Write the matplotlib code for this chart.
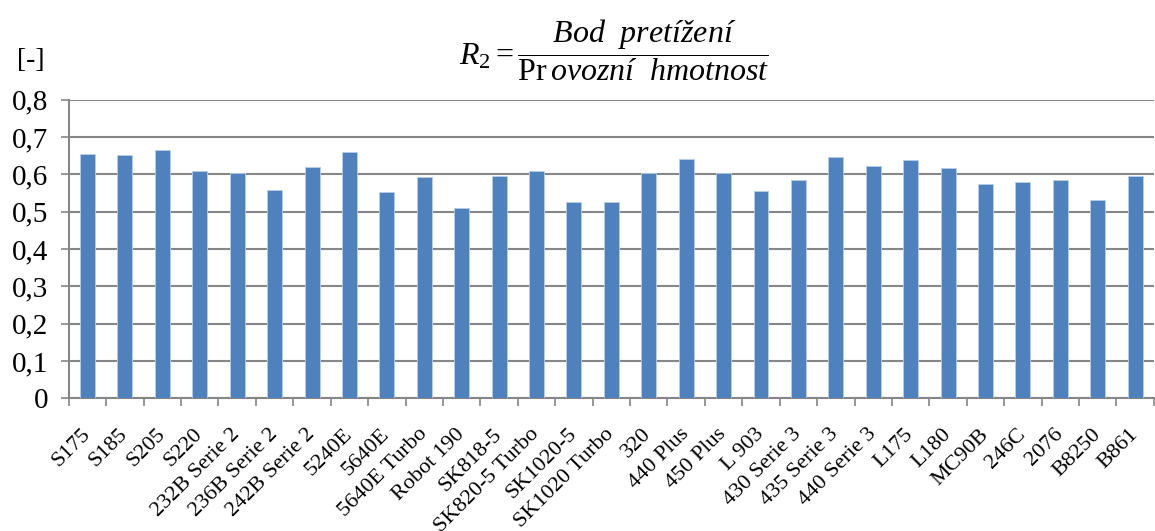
import matplotlib
matplotlib.use("Agg")
import matplotlib.pyplot as plt
import numpy as np

categories = ["S175", "S185", "S205", "S220", "232B Serie 2", "236B Serie 2", "242B Serie 2",
              "5240E", "5640E", "5640E Turbo", "Robot 190", "SK818-5", "SK820-5 Turbo",
              "SK1020-5", "SK1020 Turbo", "320", "440 Plus", "450 Plus", "L 903",
              "430 Serie 3", "435 Serie 3", "440 Serie 3", "L175", "L180", "MC90B",
              "246C", "2076", "B8250", "B861"]
values = [0.655, 0.653, 0.666, 0.608, 0.605, 0.559, 0.621, 0.659, 0.553, 0.594,
          0.510, 0.596, 0.610, 0.527, 0.527, 0.604, 0.642, 0.604, 0.556, 0.586,
          0.647, 0.622, 0.640, 0.618, 0.574, 0.580, 0.586, 0.531, 0.595]
yticks = [0, 0.1, 0.2, 0.3, 0.4, 0.5, 0.6, 0.7, 0.8]
ytick_labels = ["0", "0,1", "0,2", "0,3", "0,4", "0,5", "0,6", "0,7", "0,8"]

plt.rcParams['font.family'] = ['Liberation Serif', 'DejaVu Serif']
plt.rcParams['mathtext.fontset'] = 'custom'
plt.rcParams['mathtext.rm'] = 'Liberation Serif'
plt.rcParams['mathtext.it'] = 'Liberation Serif:italic'

fig = plt.figure(figsize=(11.55, 5.31), dpi=100)
ax = fig.add_axes([0.0596, 0.250, 0.9394, 0.562])

grid_c = "#868686"
x = np.arange(len(categories))
ax.bar(x, values, width=0.4, color="#4f81bd", edgecolor="#b9cde5", linewidth=0.6, zorder=3)

ax.set_xlim(-0.5, len(categories) - 0.5)
ax.set_ylim(0, 0.8)
ax.set_yticks(yticks)
ax.set_yticklabels(ytick_labels, fontsize=21)
ax.yaxis.grid(True, color=grid_c, linewidth=1.5, zorder=0)
ax.set_axisbelow(True)

ax.set_xticks(x)
ax.set_xticklabels(categories, rotation=45, ha="right", va="center",
                   rotation_mode="anchor", fontsize=16)
ax.tick_params(axis="x", which="major", length=0, pad=24)
ax.set_xticks(np.arange(-0.5, len(categories)), minor=True)
ax.tick_params(axis="x", which="minor", length=6, width=1.2, color=grid_c)
ax.tick_params(axis="y", length=6, width=1.2, color=grid_c, pad=9)

for s in ["top", "right"]:
    ax.spines[s].set_visible(False)
for s in ["left", "bottom"]:
    ax.spines[s].set_color(grid_c)
    ax.spines[s].set_linewidth(1.5)

fig.text(0.027, 0.887, "[-]", fontsize=20, ha="center", va="center")
fig.text(0.532, 0.905,
         r"$R_2 = \dfrac{Bod\ \ pretížení}{\mathrm{Pr}\,ovozní\ \ hmotnost}$",
         fontsize=23, ha="center", va="center")

fig.savefig("out.png", dpi=100)
